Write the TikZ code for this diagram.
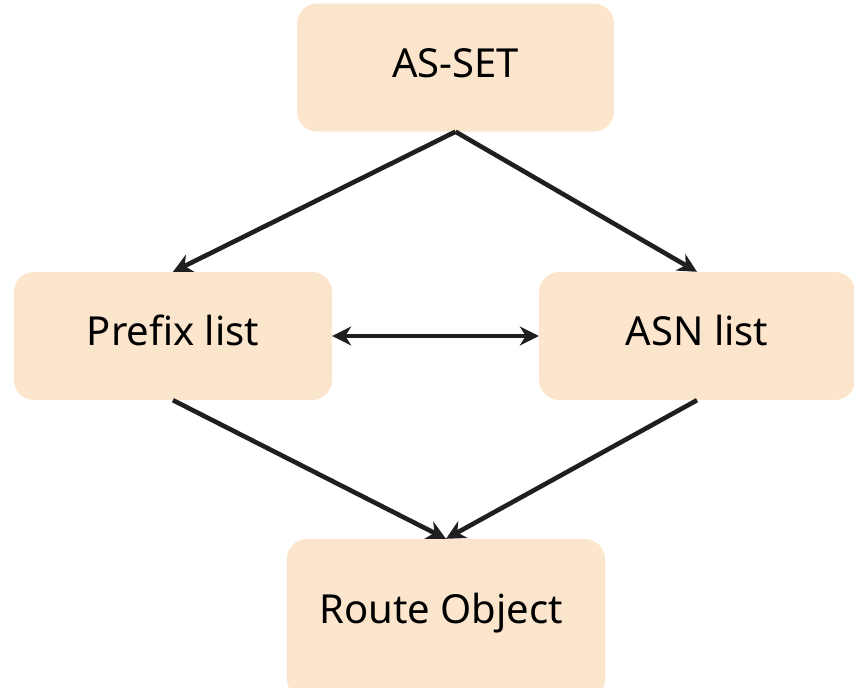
\documentclass[tikz,border=0pt]{standalone}
\usepackage{fontspec}
\setmainfont{Noto Sans}
\usetikzlibrary{arrows.meta}
\definecolor{boxfill}{HTML}{FCE5CD}
\definecolor{ink}{HTML}{1F1F1F}
\tikzset{
  block/.style={fill=boxfill, rounded corners=20pt, inner sep=0pt},
  caption/.style={anchor=base, inner sep=0pt,
    font=\fontsize{40}{48}\selectfont, text=black},
  tip/.style={Stealth[length=19pt,width=19pt,inset=6pt]},
  link/.style={draw=ink, line width=4.6pt, -{Stealth[length=19pt,width=19pt,inset=6pt]}},
  twoway/.style={draw=ink, line width=4.6pt,
    {Stealth[length=19pt,width=19pt,inset=6pt]}-{Stealth[length=19pt,width=19pt,inset=6pt]}}
}
\begin{document}
\begin{tikzpicture}[x=1pt,y=-1pt]
  \useasboundingbox (0,0) rectangle (854,688);
  % boxes
  \node[block, minimum width=317pt, minimum height=128pt] (aset) at (455.5,67.5) {};
  \node[block, minimum width=318pt, minimum height=128pt] (prefix) at (173,336) {};
  \node[block, minimum width=316pt, minimum height=128pt] (asn) at (697,336) {};
  \node[block, minimum width=318pt, minimum height=160pt] (route) at (446,619) {};
  % captions, set on their baselines
  \node[caption] (asettext) at (455.5,77) {AS-SET};
  \node[caption] (prefixtext) at (173,345) {Prefix list};
  \node[caption] (asntext) at (697,345) {ASN list};
  \node[caption] (routetext) at (441,623) {Route Object};
  % connectors
  \draw[link] (aset.south) -- (prefix.north);
  \draw[link] (aset.south) -- (asn.north);
  \draw[twoway] (prefix.east) -- (asn.west);
  \draw[link] (prefix.south) -- (route.north);
  \draw[link] (asn.south) -- (route.north);
\end{tikzpicture}
\end{document}
